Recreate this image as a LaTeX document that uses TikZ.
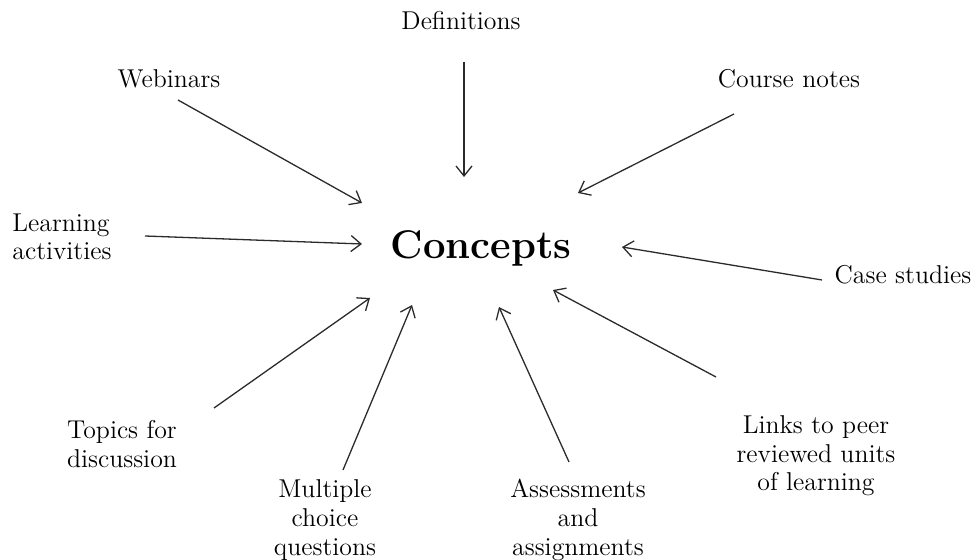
\documentclass[tikz,border=0pt]{standalone}
\usepackage{fontspec}
\usetikzlibrary{arrows.meta}
\definecolor{arrowc}{HTML}{2B2B2B}
\tikzset{
  lbl/.style={align=center,inner sep=0pt,font=\fontsize{12.9}{14.3}\selectfont},
  toc/.style={draw=arrowc,line width=0.65pt,-{Straight Barb[length=5pt,width=8pt]}}
}
\begin{document}
\begin{tikzpicture}[x=0.5pt,y=-0.5pt]
  \useasboundingbox (0,0) rectangle (974,560);
  \node [inner sep=0pt,font=\fontsize{20}{24}\selectfont\bfseries] (concepts) at (481,248) {Concepts};
  \node [lbl] (defs) at (461,21) {Definitions};
  \node [lbl] (webinars) at (169,79) {Webinars};
  \node [lbl] (notes) at (789,79) {Course notes};
  \node [lbl,align=left,anchor=west] (activities) at (12,237) {Learning\\activities};
  \node [lbl] (cases) at (903,275) {Case studies};
  \node [lbl] (topics) at (122,444) {Topics for\\discussion};
  \node [lbl] (mcq) at (325,520) {Multiple\\choice\\questions};
  \node [lbl] (assess) at (578,520) {Assessments\\and\\assignments};
  \node [lbl] (links) at (816,456) {Links to peer\\reviewed units\\of learning};
  \coordinate (defs-t) at (464,62);      \coordinate (defs-h) at (464,177);
  \coordinate (webinars-t) at (178,100); \coordinate (webinars-h) at (362,203);
  \coordinate (notes-t) at (734,114);    \coordinate (notes-h) at (578,193);
  \coordinate (activities-t) at (145,236); \coordinate (activities-h) at (362,244);
  \coordinate (cases-t) at (822,280);    \coordinate (cases-h) at (622,247);
  \coordinate (topics-t) at (214,408);   \coordinate (topics-h) at (370,298);
  \coordinate (mcq-t) at (343,470);      \coordinate (mcq-h) at (412,305);
  \coordinate (assess-t) at (569,462);   \coordinate (assess-h) at (499,307);
  \coordinate (links-t) at (716,377);    \coordinate (links-h) at (553,290);
  \foreach \n in {defs,webinars,notes,activities,cases,topics,mcq,assess,links}
    \draw [toc] (\n-t) -- (\n-h);
\end{tikzpicture}
\end{document}
